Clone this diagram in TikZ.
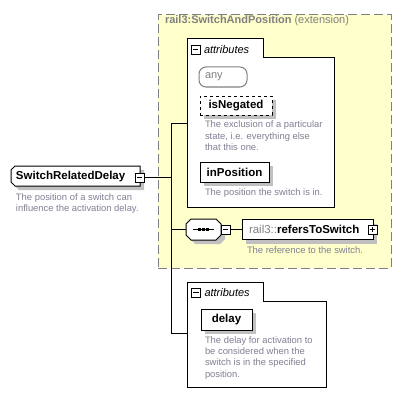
\documentclass[tikz,border=0pt]{standalone}
\usepackage{fontspec}
\setmainfont{Liberation Sans}
\usetikzlibrary{positioning,shadows}

\definecolor{extyellow}{RGB}{255,255,204}
\definecolor{extgray}{RGB}{128,128,128}
\definecolor{descgray}{RGB}{128,128,148}
\definecolor{shadowgray}{RGB}{192,192,192}

\begin{document}
\begin{tikzpicture}[x=1pt, y=-1pt, >=stealth, node distance=4pt,
    every node/.style={inner sep=0pt, outer sep=0pt},
    boxshadow/.style={drop shadow={shadow xshift=4pt, shadow yshift=-4pt, fill=shadowgray, opacity=1}},
    extbox/.style={draw=extgray, line width=1pt, dash pattern=on 9pt off 4pt, fill=extyellow},
    exttitle/.style={text=extgray, font=\fontsize{11}{13}\selectfont},
    grouparea/.style={rectangle},
    groupline/.style={draw, line width=1pt, fill=white},
    shapeline/.style={draw, line width=1pt, fill=white, boxshadow},
    tablabel/.style={font=\fontsize{11}{13}\selectfont\itshape},
    minusbox/.style={draw, fill=white, line width=0.8pt, minimum width=9pt, minimum height=9pt,
        path picture={\draw[line width=0.8pt] ([xshift=1.8pt]path picture bounding box.west) -- ([xshift=-1.8pt]path picture bounding box.east);}},
    plusbox/.style={draw, fill=white, line width=0.8pt, minimum width=9pt, minimum height=9pt,
        path picture={\draw[line width=0.8pt] ([xshift=1.8pt]path picture bounding box.west) -- ([xshift=-1.8pt]path picture bounding box.east);
                      \draw[line width=0.8pt] ([yshift=-1.8pt]path picture bounding box.north) -- ([yshift=1.8pt]path picture bounding box.south);}},
    attrbox/.style={draw, line width=1pt, fill=white, boxshadow, font=\fontsize{11.5}{13}\selectfont\bfseries},
    anybox/.style={draw=extgray, line width=1pt, fill=white, rounded corners=7pt, text=extgray,
        inner xsep=6pt, text width=36pt, align=left, font=\fontsize{11}{13}\selectfont},
    elemlabel/.style={font=\fontsize{11.5}{13}\selectfont\bfseries},
    refbox/.style={draw, line width=1pt, fill=white, boxshadow, inner xsep=7pt, align=left,
        font=\fontsize{11.5}{13}\selectfont},
    desc/.style={text=descgray, align=left, font=\fontsize{9.4}{11.3}\selectfont},
    conn/.style={draw, line width=1pt}]

    \useasboundingbox (0,0) rectangle (407,404);

    % Extension {rail3:SwitchAndPosition}
    \node [extbox, anchor=north west, minimum width=233pt, minimum height=253pt] (ext) at (158,15) {};
    \node [exttitle, anchor=west] (exttitle) at (165,21) {\textbf{rail3:SwitchAndPosition} (extension)};

    % Attributes of the extension
    \node [grouparea, anchor=north west, minimum width=147pt, minimum height=149pt] (attrs1) at (187,58) {};
    \node [grouparea, anchor=north west, minimum width=76pt, minimum height=19pt] (tab1) at (187,39) {};
    \draw [groupline] (attrs1.south west) -- (tab1.north west) -- (tab1.north east) -- (tab1.south east)
        -- (attrs1.north east) -- (attrs1.south east) -- cycle;
    \node [minusbox] (tabminus1) at (195.5,49.5) {};
    \node [tablabel, right=4pt of tabminus1] (tablabel1) {attributes};

    \node [anybox, anchor=north west, minimum height=20pt] (any) at (199,67) {any};
    \node [attrbox, dashed, anchor=north west, minimum width=72pt, minimum height=19pt] (isneg) at (200,96) {isNegated};
    \node [desc, anchor=north west] (isnegdesc) at (205,121) {The exclusion of a particular\\state, i.e. everything else\\that this one.};
    \node [attrbox, anchor=north west, minimum width=69pt, minimum height=20pt] (inpos) at (200,162) {inPosition};
    \node [desc, anchor=north west] (inposdesc) at (205,188.5) {The position the switch is in.};

    % Element {SwitchRelatedDelay}
    \node [grouparea, anchor=north west, minimum width=129pt, minimum height=20pt] (srd) at (11,166) {};
    \path [shapeline] ([xshift=4pt]srd.north west) -- (srd.north east) -- (srd.south east)
        -- ([xshift=4pt]srd.south west) -- ([yshift=4pt]srd.south west) -- ([yshift=-4pt]srd.north west) -- cycle;
    \node [elemlabel, anchor=west] (srdlabel) at (16,177) {SwitchRelatedDelay};
    \node [minusbox] (srdminus) at (139.5,177.5) {};
    \node [desc, anchor=north west] (srddesc) at (16,193.5) {The position of a switch can\\influence the activation delay.};

    % Sequence {refersToSwitch}
    \node [grouparea, minimum width=35pt, minimum height=21pt] (seq) at (203.5,229.5) {};
    \path [shapeline] ([xshift=5pt]seq.north west) -- ([xshift=-5pt]seq.north east) -- ([yshift=-5pt]seq.north east)
        -- ([yshift=5pt]seq.south east) -- ([xshift=-5pt]seq.south east) -- ([xshift=5pt]seq.south west)
        -- ([yshift=5pt]seq.south west) -- ([yshift=-5pt]seq.north west) -- cycle;
    \draw [line width=1pt] ([xshift=7pt]seq.west) -- ([xshift=-7pt]seq.east);
    \foreach \dx in {-4,0,4}
        \fill ([xshift=\dx pt-1.3pt, yshift=-1.6pt]seq.center) rectangle ++(2.6,-3.2);
    \node [minusbox] (seqminus) at (225.5,229.5) {};
    \node [refbox, anchor=north west, minimum height=20pt, text width=117pt] (refs) at (242,219.5) {\textcolor{extgray}{rail3::}\textbf{refersToSwitch}};
    \node [plusbox] (refsplus) at (372.5,229.5) {};
    \node [desc, anchor=north west] (refsdesc) at (247,246.5) {The reference to the switch.};

    % Attributes of SwitchRelatedDelay
    \node [grouparea, anchor=north west, minimum width=139pt, minimum height=86pt] (attrs2) at (187,301) {};
    \node [grouparea, anchor=north west, minimum width=76pt, minimum height=19pt] (tab2) at (187,282) {};
    \draw [groupline] (attrs2.south west) -- (tab2.north west) -- (tab2.north east) -- (tab2.south east)
        -- (attrs2.north east) -- (attrs2.south east) -- cycle;
    \node [minusbox] (tabminus2) at (196,292.5) {};
    \node [tablabel, right=4pt of tabminus2] (tablabel2) {attributes};
    \node [attrbox, anchor=north west, minimum width=51pt, minimum height=21pt] (delay) at (201,309) {delay};
    \node [desc, anchor=north west] (delaydesc) at (205,336.5) {The delay for activation to\\be considered when the\\switch is in the specified\\position.};

    % Paths
    \coordinate (jtop) at (171,123);
    \coordinate (jbot) at (171,333);
    \draw [conn] (jtop) -- (jbot);
    \draw [conn] (srdminus.east) -- (srdminus.east -| jtop);
    \draw [conn] (jtop) -- (jtop -| attrs1.west);
    \draw [conn] (seq.west -| jtop) -- (seq.west);
    \draw [conn] (seqminus.east) -- (refs.west);
    \draw [conn] (jbot) -- (jbot -| attrs2.west);

\end{tikzpicture}
\end{document}
